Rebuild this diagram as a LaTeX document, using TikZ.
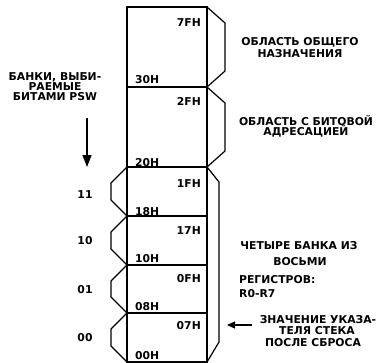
\documentclass[tikz,border=0pt]{standalone}
\usepackage{fontspec}
\setmainfont{DejaVu Sans}
\usetikzlibrary{arrows.meta}
\tikzset{
  edge/.style={line width=1.2bp, line join=miter},
  lbl/.style={font=\bfseries\fontsize{10.8bp}{12bp}\selectfont, inner sep=0pt},
  addrR/.style={lbl, anchor=base east},
  addrL/.style={lbl, anchor=base west},
  txt/.style={lbl, anchor=base},
  txtL/.style={lbl, anchor=base west},
  arr/.style={line width=1.2bp, -{Triangle[length=12bp,width=9bp]}},
  arrs/.style={line width=1.2bp, -{Triangle[length=8bp,width=7bp]}}
}
\begin{document}
\begin{tikzpicture}[x=1bp,y=-1bp]
\useasboundingbox (0,0) rectangle (378,363);
% main column
\def\L{127}\def\R{207}
\draw[edge] (\L,7) rectangle (\R,362);
\foreach \yy in {87,167,216,265,313} \draw[edge] (\L,\yy) -- (\R,\yy);
% right braces
\draw[edge] (\R,7) -- (225,23) -- (225,71) -- (\R,87);
\draw[edge] (\R,87) -- (225,103) -- (225,151) -- (\R,167);
\draw[edge] (\R,167) -- (219,182) -- (219,342) -- (\R,362);
% left braces
\foreach \t/\b in {167/216,216/265,265/313,313/362}
  \draw[edge] (\L,\t) -- (111,\t+16) -- (111,\b-16) -- (\L,\b);
% addresses
\node[addrR] (a7f) at (201,26.5) {7FH};
\node[addrL] (a30) at (135,83) {30H};
\node[addrR] (a2f) at (201,105) {2FH};
\node[addrL] (a20) at (135,166) {20H};
\node[addrR] (a1f) at (201,187) {1FH};
\node[addrL] (a18) at (135,215) {18H};
\node[addrR] (a17) at (201,234) {17H};
\node[addrL] (a10) at (135,262) {10H};
\node[addrR] (a0f) at (201,282) {0FH};
\node[addrL] (a08) at (135,310) {08H};
\node[addrR] (a07) at (201,329) {07H};
\node[addrL] (a00) at (135,359) {00H};
% bank numbers
\node[txt] (b11) at (85,198) {11};
\node[txt] (b10) at (85,244) {10};
\node[txt] (b01) at (85,293) {01};
\node[txt] (b00) at (85,341) {00};
% left title
\node[txt] (t1) at (55,80) {БАНКИ, ВЫБИ-};
\node[txt] (t2) at (55,90) {РАЕМЫЕ};
\node[txt] (t3) at (55,100) {БИТАМИ PSW};
\coordinate (as) at (87,118);
\coordinate (ae) at (87,167);
\draw[arr] (as) -- (ae);
% right texts
\node[txt] (r1) at (300,45) {ОБЛАСТЬ ОБЩЕГО};
\node[txt] (r2) at (300,57) {НАЗНАЧЕНИЯ};
\node[txt] (r3) at (306,125) {ОБЛАСТЬ С БИТОВОЙ};
\node[txt] (r4) at (306,135) {АДРЕСАЦИЕЙ};
\node[txt] (r5) at (299,249) {ЧЕТЫРЕ БАНКА ИЗ};
\node[txt] (r6) at (300,265) {ВОСЬМИ};
\node[txtL] (r7) at (239,283) {РЕГИСТРОВ:};
\node[txtL] (r8) at (239,297) {R0-R7};
\node[txt] (r9) at (318,323) {ЗНАЧЕНИЕ УКАЗА-};
\node[txt] (r10) at (317,334) {ТЕЛЯ СТЕКА};
\node[txt] (r11) at (313,346) {ПОСЛЕ СБРОСА};
\coordinate (bs) at (252,325);
\coordinate (be) at (227,325);
\draw[arrs] (bs) -- (be);
\end{tikzpicture}
\end{document}
